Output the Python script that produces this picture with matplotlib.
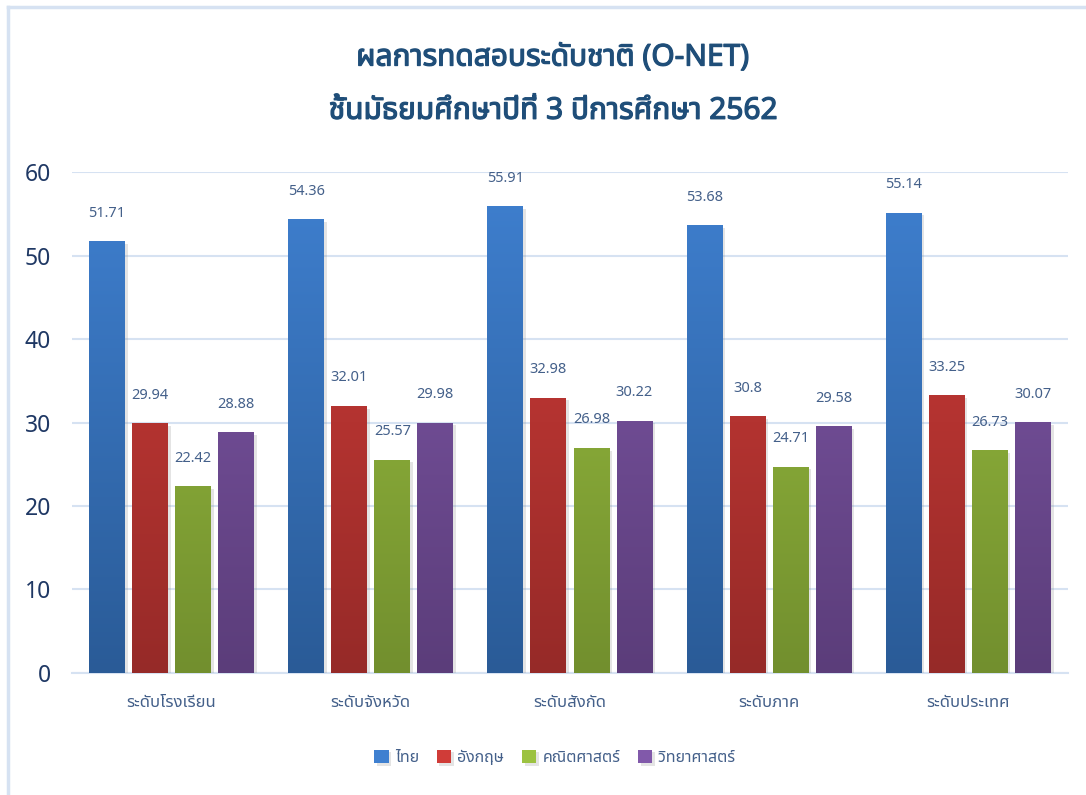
import numpy as np
import matplotlib
matplotlib.use("Agg")
import matplotlib.pyplot as plt
from matplotlib import font_manager
from matplotlib.ft2font import FT2Font
from matplotlib.lines import Line2D
import matplotlib.patheffects as pe
from matplotlib.colors import LinearSegmentedColormap

# data
categories = ["ระดับโรงเรียน", "ระดับจังหวัด", "ระดับสังกัด", "ระดับภาค", "ระดับประเทศ"]
subjects = ["ไทย", "อังกฤษ", "คณิตศาสตร์", "วิทยาศาสตร์"]
thai = [51.71, 54.36, 55.91, 53.68, 55.14]
english = [29.94, 32.01, 32.98, 30.8, 33.25]
math = [22.42, 25.57, 26.98, 24.71, 26.73]
science = [28.88, 29.98, 30.22, 29.58, 30.07]
yticks = [0, 10, 20, 30, 40, 50, 60]


def find_thai_font():
    # look for any installed font that has Thai glyphs
    found = []
    for f in font_manager.fontManager.ttflist:
        try:
            if 0x0E01 in FT2Font(f.fname).get_charmap():
                found.append(f.name)
        except Exception:
            pass
    for pref in ["Tahoma", "Leelawadee UI", "Noto Sans Thai", "Noto Sans Thai UI",
                 "Sarabun", "Loma", "Garuda", "Umpush", "Waree", "Kinnari"]:
        if pref in found:
            return pref
    return found[0] if found else None


thai_font = find_thai_font()
families = ([thai_font] if thai_font else []) + ["DejaVu Sans"]
plt.rcParams["font.family"] = families

series = [thai, english, math, science]
top_colors = ["#3F80D0", "#D03C38", "#9CC241", "#8159AA"]
bot_colors = ["#2A5B97", "#962A28", "#728F2E", "#5B3D7A"]
label_color = "#44608A"

fig = plt.figure(figsize=(10.86, 7.95), dpi=100)
ax = fig.add_axes([0.0663, 0.1535, 0.917, 0.63])

x = np.arange(len(categories))
width = 0.18
step = 0.216
offsets = (np.arange(len(series)) - 1.5) * step

for i, vals in enumerate(series):
    bars = ax.bar(x + offsets[i], vals, width, color=top_colors[i], zorder=3,
                  label=subjects[i], linewidth=0,
                  path_effects=[pe.withSimplePatchShadow(offset=(2, -2), shadow_rgbFace="#888888", alpha=0.22)])
    # vertical gradient, darker at the bottom
    cmap = LinearSegmentedColormap.from_list("g%d" % i, [bot_colors[i], top_colors[i]])
    for b, v in zip(bars, vals):
        x0 = b.get_x()
        grad = np.linspace(0, 1, 256).reshape(-1, 1)
        im = ax.imshow(grad, cmap=cmap, origin="lower", aspect="auto",
                       extent=[x0, x0 + b.get_width(), 0, 60], zorder=4)
        im.set_clip_path(b)
        ax.annotate(f"{v:g}", (b.get_x() + b.get_width() / 2, v), xytext=(0, 20),
                    textcoords="offset points", ha="center", va="center",
                    fontsize=10.5, color=label_color, zorder=5)

ax.set_xlim(-0.5, len(categories) - 0.5)
ax.set_ylim(0, 60)
ax.set_yticks(yticks)
ax.yaxis.grid(True, color="#D6E2F2", linewidth=1.5, zorder=0)
ax.set_axisbelow(True)
for s in ["top", "right", "left"]:
    ax.spines[s].set_visible(False)
ax.spines["bottom"].set_color("#D6E2F2")
ax.spines["bottom"].set_linewidth(1.5)
ax.tick_params(axis="y", length=0, labelsize=16.5, labelcolor="#1F3864", pad=15)
ax.tick_params(axis="x", length=0, labelsize=12, labelcolor=label_color, pad=16)
ax.set_xticks(x)
ax.set_xticklabels(categories)

bold = [pe.withStroke(linewidth=0.9, foreground="#1F4E79")]
fig.text(0.509, 0.927, "ผลการทดสอบระดับชาติ (O-NET)", ha="center", va="center",
         fontsize=21.5, fontweight="bold", color="#1F4E79", path_effects=bold)
fig.text(0.509, 0.860, "ชั้นมัธยมศึกษาปีที่ 3 ปีการศึกษา 2562", ha="center", va="center",
         fontsize=21.5, fontweight="bold", color="#1F4E79", path_effects=bold)

handles, labels = ax.get_legend_handles_labels()
leg = fig.legend(handles, labels, loc="center", bbox_to_anchor=(0.511, 0.047), ncol=4,
                 frameon=False, fontsize=11.5, handlelength=0.9, handleheight=0.9,
                 columnspacing=1.1, handletextpad=0.4)
for t in leg.get_texts():
    t.set_color(label_color)

# chart frame (light blue, top and left visible)
fig.add_artist(Line2D([7.5 / 1086, 1.0], [1 - 6.5 / 795] * 2, color="#D6E2F2", linewidth=2.5))
fig.add_artist(Line2D([7.5 / 1086] * 2, [0.0, 1 - 6.5 / 795], color="#D6E2F2", linewidth=2.5))

fig.savefig("out.png", dpi=100)
